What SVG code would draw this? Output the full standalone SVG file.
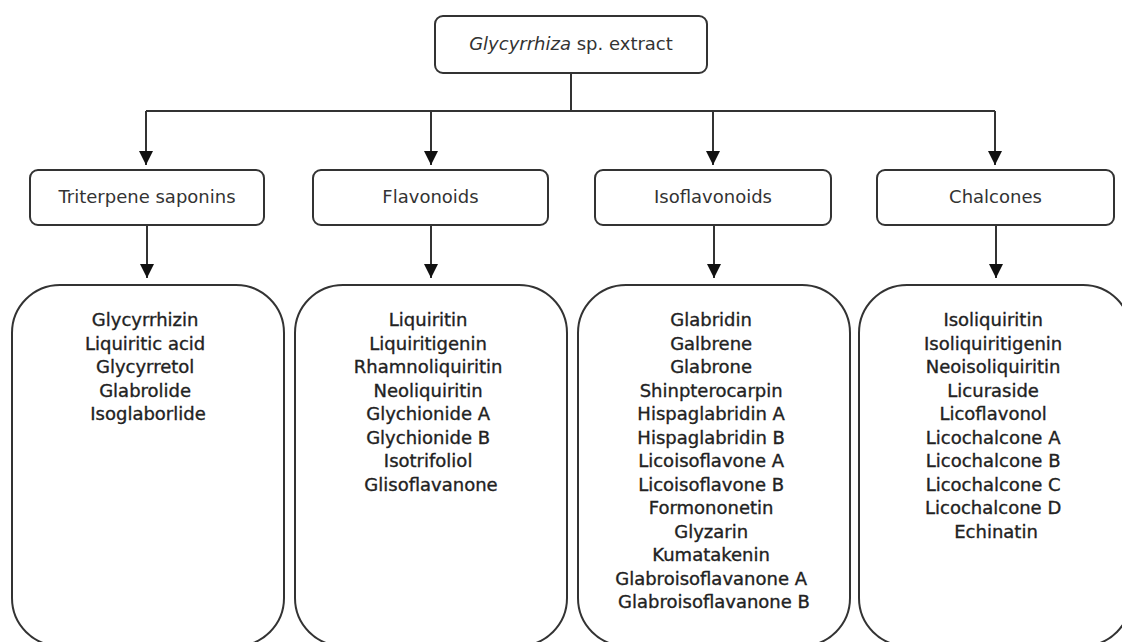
<svg xmlns="http://www.w3.org/2000/svg" width="1122" height="642" viewBox="0 0 1122 642">
<style>
.box{fill:#fff;stroke:#333;stroke-width:2}
.conn{fill:none;stroke:#333;stroke-width:2}
text{font-family:"DejaVu Sans","Liberation Sans",sans-serif;font-size:18px;text-anchor:middle}
.cat{fill:#333}
.lst{fill:#222;stroke:#222;stroke-width:0.35}
</style>
<defs>
<marker id="ah" markerUnits="userSpaceOnUse" markerWidth="14" markerHeight="14" refX="14" refY="7" orient="auto">
<path d="M0,0 L14,7 L0,14 z" fill="#111"/>
</marker>
</defs>
<rect width="1122" height="642" fill="#fff"/>
<g id="connectors">
<path class="conn" d="M571,73 V111 M146,111 H995"/>
<path class="conn" d="M146,111 V165" marker-end="url(#ah)"/>
<path class="conn" d="M431,111 V165" marker-end="url(#ah)"/>
<path class="conn" d="M713,111 V165" marker-end="url(#ah)"/>
<path class="conn" d="M995,111 V165" marker-end="url(#ah)"/>
<path class="conn" d="M147,225 V278" marker-end="url(#ah)"/>
<path class="conn" d="M431,225 V278" marker-end="url(#ah)"/>
<path class="conn" d="M714,225 V278" marker-end="url(#ah)"/>
<path class="conn" d="M996,225 V278" marker-end="url(#ah)"/>
</g>
<g id="root">
<rect class="box" x="435" y="16" width="272" height="57" rx="8"/>
<text x="571" y="50" class="cat"><tspan font-style="italic">Glycyrrhiza</tspan> sp. extract</text>
</g>
<g id="cat-triterpene">
<rect class="box" x="30" y="170" width="234" height="55" rx="8"/>
<text x="147" y="203" class="cat">Triterpene saponins</text>
</g>
<g id="cat-flavonoids">
<rect class="box" x="313" y="170" width="235" height="55" rx="8"/>
<text x="430.5" y="203" class="cat">Flavonoids</text>
</g>
<g id="cat-isoflavonoids">
<rect class="box" x="595" y="170" width="236" height="55" rx="8"/>
<text x="713" y="203" class="cat">Isoflavonoids</text>
</g>
<g id="cat-chalcones">
<rect class="box" x="877" y="170" width="237" height="55" rx="8"/>
<text x="995.5" y="203" class="cat">Chalcones</text>
</g>
<g id="list-triterpene">
<rect class="box" x="12" y="285" width="272" height="361" rx="48"/>
<text class="lst" x="148" y="326">
<tspan x="148" dy="0">Glycyrrhizin</tspan>
<tspan x="148" dy="23.5">Liquiritic acid</tspan>
<tspan x="148" dy="23.5">Glycyrretol</tspan>
<tspan x="148" dy="23.5">Glabrolide</tspan>
<tspan x="148" dy="23.5">Isoglaborlide</tspan>
</text>
</g>
<g id="list-flavonoids">
<rect class="box" x="295" y="285" width="272" height="361" rx="48"/>
<text class="lst" x="431" y="326">
<tspan x="431" dy="0">Liquiritin</tspan>
<tspan x="431" dy="23.5">Liquiritigenin</tspan>
<tspan x="431" dy="23.5">Rhamnoliquiritin</tspan>
<tspan x="431" dy="23.5">Neoliquiritin</tspan>
<tspan x="431" dy="23.5">Glychionide A</tspan>
<tspan x="431" dy="23.5">Glychionide B</tspan>
<tspan x="431" dy="23.5">Isotrifoliol</tspan>
<tspan x="431" dy="23.5">Glisoflavanone</tspan>
</text>
</g>
<g id="list-isoflavonoids">
<rect class="box" x="578" y="285" width="272" height="361" rx="48"/>
<text class="lst" x="714" y="326">
<tspan x="714" dy="0">Glabridin</tspan>
<tspan x="714" dy="23.5">Galbrene</tspan>
<tspan x="714" dy="23.5">Glabrone</tspan>
<tspan x="714" dy="23.5">Shinpterocarpin</tspan>
<tspan x="714" dy="23.5">Hispaglabridin A</tspan>
<tspan x="714" dy="23.5">Hispaglabridin B</tspan>
<tspan x="714" dy="23.5">Licoisoflavone A</tspan>
<tspan x="714" dy="23.5">Licoisoflavone B</tspan>
<tspan x="714" dy="23.5">Formononetin</tspan>
<tspan x="714" dy="23.5">Glyzarin</tspan>
<tspan x="714" dy="23.5">Kumatakenin</tspan>
<tspan x="714" dy="23.5">Glabroisoflavanone A</tspan>
<tspan x="714" dy="23.5">Glabroisoflavanone B</tspan>
</text>
</g>
<g id="list-chalcones">
<rect class="box" x="859" y="285" width="272" height="361" rx="48"/>
<text class="lst" x="996" y="326">
<tspan x="996" dy="0">Isoliquiritin</tspan>
<tspan x="996" dy="23.5">Isoliquiritigenin</tspan>
<tspan x="996" dy="23.5">Neoisoliquiritin</tspan>
<tspan x="996" dy="23.5">Licuraside</tspan>
<tspan x="996" dy="23.5">Licoflavonol</tspan>
<tspan x="996" dy="23.5">Licochalcone A</tspan>
<tspan x="996" dy="23.5">Licochalcone B</tspan>
<tspan x="996" dy="23.5">Licochalcone C</tspan>
<tspan x="996" dy="23.5">Licochalcone D</tspan>
<tspan x="996" dy="23.5">Echinatin</tspan>
</text>
</g>
</svg>
